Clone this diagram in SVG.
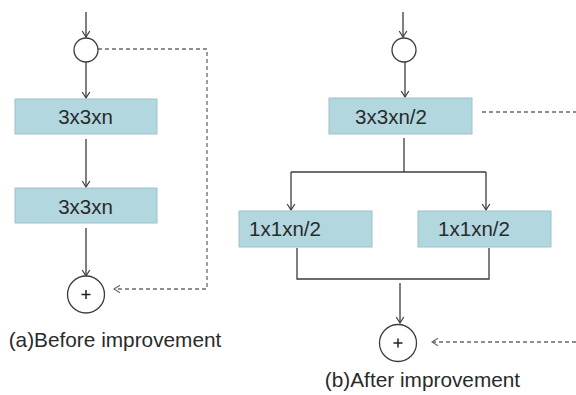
<svg xmlns="http://www.w3.org/2000/svg" width="576" height="395" viewBox="0 0 576 395">
<defs>
<style>
.box{fill:#b3d7df;stroke:#9ec2cb;stroke-width:1}
.lbl{font-family:"Liberation Sans",Arial,sans-serif;font-size:20.5px;fill:#2a2a2a;text-anchor:middle}
.cap{font-family:"Liberation Sans",Arial,sans-serif;font-size:20.8px;fill:#2a2a2a;text-anchor:middle}
.ln{fill:none;stroke:#3c3c3c;stroke-width:1.3}
.dash{fill:none;stroke:#6a6a6a;stroke-width:1.3;stroke-dasharray:4 3}
.node{fill:#fff;stroke:#3c3c3c;stroke-width:1.3}
.plus{stroke:#222;stroke-width:1.5}
</style>
<marker id="arr" viewBox="-1 -5 8 10" markerWidth="8" markerHeight="10" refX="6" refY="0" orient="auto" markerUnits="userSpaceOnUse">
<path d="M0,-3.8 L6,0 L0,3.8" fill="none" stroke="#3c3c3c" stroke-width="1.2"/>
</marker>
<marker id="arrd" viewBox="-1 -5 8 10" markerWidth="8" markerHeight="10" refX="6" refY="0" orient="auto" markerUnits="userSpaceOnUse">
<path d="M0,-3.8 L6,0 L0,3.8" fill="none" stroke="#6a6a6a" stroke-width="1.2"/>
</marker>
</defs>
<rect width="576" height="395" fill="#fff"/>

<g id="connectors">
<!-- (a) -->
<line class="ln" x1="86" y1="12" x2="86" y2="37" marker-end="url(#arr)"/>
<line class="ln" x1="86" y1="62" x2="86" y2="98" marker-end="url(#arr)"/>
<line class="ln" x1="86" y1="139" x2="86" y2="187" marker-end="url(#arr)"/>
<line class="ln" x1="86" y1="228" x2="86" y2="276" marker-end="url(#arr)"/>
<path class="dash" d="M98,49 H207 V289 H114" marker-end="url(#arrd)"/>
<!-- (b) -->
<line class="ln" x1="403" y1="12" x2="403" y2="37" marker-end="url(#arr)"/>
<line class="ln" x1="405" y1="62" x2="405" y2="97" marker-end="url(#arr)"/>
<line class="dash" x1="482" y1="112" x2="576" y2="112"/>
<path class="ln" d="M404,138 V172"/>
<path class="ln" d="M291,172 H486"/>
<line class="ln" x1="291" y1="172" x2="291" y2="210" marker-end="url(#arr)"/>
<line class="ln" x1="486" y1="172" x2="486" y2="210" marker-end="url(#arr)"/>
<path class="ln" d="M297,248 V279 H489 V248"/>
<line class="ln" x1="400" y1="283" x2="400" y2="323" marker-end="url(#arr)"/>
<line class="dash" x1="576" y1="342" x2="432" y2="342" marker-end="url(#arrd)"/>
</g>

<g id="a-split">
<circle class="node" cx="86" cy="50" r="12"/>
</g>
<g id="a-conv1">
<rect class="box" x="15" y="99" width="142" height="35"/>
<text class="lbl" x="85.5" y="124">3x3xn</text>
</g>
<g id="a-conv2">
<rect class="box" x="15" y="188" width="142" height="35"/>
<text class="lbl" x="85.5" y="214">3x3xn</text>
</g>
<g id="a-add">
<circle class="node" cx="86" cy="294.5" r="18.5"/>
<path class="plus" d="M81.5,294.5 H90.5 M86,290 V299"/>
</g>
<g id="a-caption">
<text class="cap" x="115" y="347">(a)Before improvement</text>
</g>

<g id="b-split">
<circle class="node" cx="404" cy="50" r="12"/>
</g>
<g id="b-conv">
<rect class="box" x="329" y="98" width="143" height="36"/>
<text class="lbl" x="391" y="124">3x3xn/2</text>
</g>
<g id="b-left">
<rect class="box" x="239" y="211" width="133" height="36"/>
<text class="lbl" x="285" y="236">1x1xn/2</text>
</g>
<g id="b-right">
<rect class="box" x="418" y="211" width="133" height="36"/>
<text class="lbl" x="474" y="236">1x1xn/2</text>
</g>
<g id="b-add">
<circle class="node" cx="398" cy="343" r="18.5"/>
<path class="plus" d="M393.5,343 H402.5 M398,338.5 V347.5"/>
</g>
<g id="b-caption">
<text class="cap" x="422.5" y="387">(b)After improvement</text>
</g>
</svg>
